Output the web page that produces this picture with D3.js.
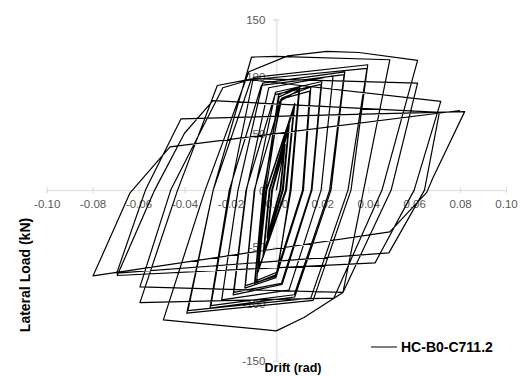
<!DOCTYPE html>
<html>
<head>
<meta charset="utf-8">
<script src="https://cdn.jsdelivr.net/npm/d3@7"></script>
<style>
  body { margin: 0; background: #fff; }
  svg { display: block; }
  text { font-family: Arial, "Liberation Sans", sans-serif; }
</style>
</head>
<body>
<svg id="chart" width="528" height="376"></svg>
<script>
// Cyclic test record: drift (rad) and lateral load (kN), in loading order
const seriesName = "HC-B0-C711.2";

const drift = [
  0,
  // elastic cycles: peak, zero crossing, trough, zero crossing
  0.0035, 0.0016, -0.0036, -0.0017,
  0.0037, 0.0018, -0.0038, -0.0018,
  0.0038, 0.0019, -0.0040, -0.0020,
  0.0052, 0.0026, -0.0054, -0.0028,
  0.0054, 0.0028, -0.0056, -0.0029,
  0.0056, 0.0030, -0.0058, -0.0031,
  0.0076, 0.0040, -0.0078, -0.0042,
  0.0078, 0.0042, -0.0080, -0.0044,
  0.0080, 0.0044, -0.0082, -0.0046,
  // yielding cycles: knee, peak, zero crossing, knee, trough, zero crossing
  0.0015, 0.0098, 0.0060, 0.0005, -0.0092, -0.0055,
  0.0012, 0.0100, 0.0062, 0.0003, -0.0086, -0.0052,
  0.0010, 0.0102, 0.0064, 0.0000, -0.0095, -0.0058,
  0.0024, 0.0150, 0.0118, -0.0002, -0.0137, -0.0096,
  0.0020, 0.0146, 0.0114, -0.0005, -0.0135, -0.0094,
  -0.0004, 0.0198, 0.0155, 0.0025, -0.0188, -0.0132,
  -0.0006, 0.0195, 0.0152, 0.0022, -0.0185, -0.0130,
  -0.0033, 0.0247, 0.0195, 0.0055, -0.0238, -0.0167,
  -0.0060, 0.0298, 0.0238, 0.0080, -0.0289, -0.0205,
  -0.0065, 0.0295, 0.0232, 0.0078, -0.0285, -0.0200,
  -0.0100, 0.0398, 0.0325, 0.0160, -0.0390, -0.0275,
  -0.0110, 0.0395, 0.0312, 0.0150, -0.0385, -0.0275,
  // 0.05 rad
  -0.0108, 0.0000, 0.0494, 0.0380, 0.0290, 0.0120, 0.0000, -0.0492, -0.0310,
  // 0.06 rad
  -0.0120, 0.0050, 0.0220, 0.0360, 0.0615, 0.0460, 0.0250, -0.0594, -0.0430,
  -0.0257, -0.0100, 0.0615, 0.0500, 0.0290, -0.0594, -0.0460,
  // 0.07 rad
  -0.0233, -0.0115, 0.0716, 0.0600, 0.0430, -0.0693, -0.0530,
  -0.0400, -0.0276, 0.0710, 0.0645, 0.0490, -0.0695, -0.0570,
  // 0.08 rad
  -0.0415, 0.0820, 0.0680, 0.0655, 0.0494, -0.0798,
  -0.0637, -0.0463, 0.0800
];

const load = [
  0,
  36, 0, -38, 0,
  38, 0, -40, 0,
  40, 0, -42, 0,
  53, 0, -54, 0,
  55, 0, -56, 0,
  57, 0, -58, 0,
  72, 0, -70, 0,
  74, 0, -72, 0,
  76, 0, -73, 0,
  78, 88, 0, -72, -80, 0,
  82, 90, 0, -74, -81.3, 0,
  84, 91, 0, -75, -82, 0,
  81, 90.6, 0, -77, -86.2, 0,
  80, 87, 0, -76, -84, 0,
  86, 95.5, 0, -83, -92.1, 0,
  84, 93, 0, -82, -90, 0,
  90, 100.5, 0, -88, -96.5, 0,
  94, 104, 0, -94, -103.8, 0,
  92, 101.5, 0, -92, -101.5, 0,
  99, 110.2, 0, -97, -108.2, 0,
  97, 107, 0, -95, -106, 0,
  117, 117.5, 114.6, 0, -90, -112, -123.8, -114.1, 0,
  104, 118, 122, 121, 114, 0, -95, -98.9, 0,
  92, 98, 94, 0, -90, -85.1, 0,
  90, 97, 78, 0, -64, -75.1, 0,
  50, 78.6, 68.3, 0, -55.2, -73, 0,
  62.7, 69, 10, -2, -36.7, -75.4,
  -2.4, 38, 70
];

const xTicks = [-0.10, -0.08, -0.06, -0.04, -0.02, 0.00, 0.02, 0.04, 0.06, 0.08, 0.10];
const yTicks = [-150, -100, -50, 0, 50, 100, 150];
const xTitle = "Drift (rad)";
const yTitle = "Lateral Load (kN)";

const svg = d3.select("#chart");

const x = d3.scaleLinear().domain([-0.10, 0.10]).range([46.7, 506]);
const y = d3.scaleLinear().domain([-150, 150]).range([360.7, 19.5]);

const axisColor = "#d9d9d9";
const labelColor = "#595959";

// Horizontal axis through zero load
const gx = svg.append("g")
  .attr("transform", `translate(0,${y(0)})`)
  .call(d3.axisBottom(x).tickValues(xTicks).tickFormat(d => d.toFixed(2)).tickSizeOuter(0).tickSize(3));
gx.select(".domain").attr("stroke", axisColor).attr("stroke-width", 1);
gx.selectAll(".tick line").attr("stroke", axisColor).attr("y1", -3).attr("y2", 3);
gx.selectAll(".tick text")
  .attr("y", 10).attr("dy", "0.71em")
  .attr("fill", labelColor).attr("font-size", 11.5);

// Vertical axis through zero drift
const gy = svg.append("g")
  .attr("transform", `translate(${x(0)},0)`)
  .call(d3.axisLeft(y).tickValues(yTicks).tickFormat(d => String(d)).tickSizeOuter(0).tickSize(3));
gy.select(".domain").attr("stroke", axisColor).attr("stroke-width", 1);
gy.selectAll(".tick line").attr("stroke", axisColor).attr("x1", -3).attr("x2", 3);
gy.selectAll(".tick text")
  .attr("x", -11).attr("dy", "0.35em")
  .attr("fill", labelColor).attr("font-size", 11.5);
svg.selectAll(".tick text").attr("font-family", "Arial, 'Liberation Sans', sans-serif");

// Hysteresis curve
const points = drift.map((d, i) => [d, load[i]]);
const line = d3.line().x(p => x(p[0])).y(p => y(p[1])).curve(d3.curveLinear);
svg.append("path")
  .datum(points)
  .attr("d", line)
  .attr("fill", "none")
  .attr("stroke", "#000")
  .attr("stroke-width", 1.2)
  .attr("stroke-linejoin", "round");

// Axis titles
svg.append("text")
  .attr("x", 293).attr("y", 372)
  .attr("text-anchor", "middle")
  .attr("font-weight", "bold").attr("font-size", 12.5)
  .attr("fill", "#000")
  .text(xTitle);

svg.append("text")
  .attr("transform", "translate(30,275) rotate(-90)")
  .attr("text-anchor", "middle")
  .attr("font-weight", "bold").attr("font-size", 14)
  .attr("fill", "#000")
  .text(yTitle);

// Legend
const legend = svg.append("g").attr("transform", "translate(371,347)");
legend.append("line").attr("x1", 0).attr("x2", 26).attr("y1", 0).attr("y2", 0)
  .attr("stroke", "#000").attr("stroke-width", 1);
legend.append("text").attr("x", 30).attr("y", 0).attr("dy", "0.35em")
  .attr("font-weight", "bold").attr("font-size", 14).attr("fill", "#000")
  .text(seriesName);
</script>
</body>
</html>
